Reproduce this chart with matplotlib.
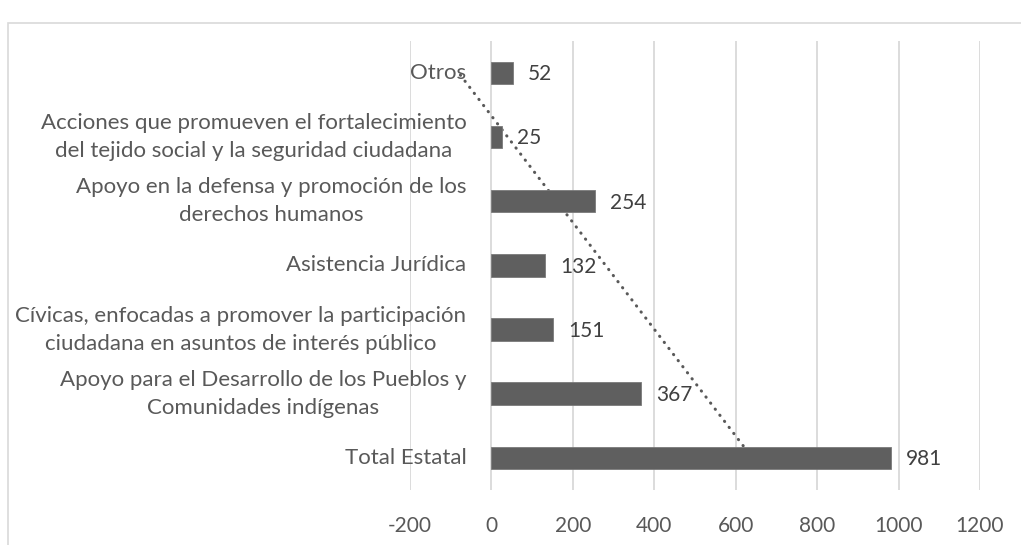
import numpy as np
import matplotlib
matplotlib.use("Agg")
from matplotlib import pyplot as plt
from matplotlib.patches import Rectangle

# categorias (de abajo hacia arriba, como en Excel)
categorias = [
    "Total Estatal",
    "Apoyo para el Desarrollo de los Pueblos y\nComunidades indígenas",
    "Cívicas, enfocadas a promover la participación\nciudadana en asuntos de interés público",
    "Asistencia Jurídica",
    "Apoyo en la defensa y promoción de los\nderechos humanos",
    "Acciones que promueven el fortalecimiento\ndel tejido social y la seguridad ciudadana",
    "Otros",
]
valores = [981, 367, 151, 132, 254, 25, 52]
ticks_x = [-200, 0, 200, 400, 600, 800, 1000, 1200]

gris = "#595959"
gris_barra = "#5f5f5f"
gris_linea = "#d9d9d9"

plt.rcParams["font.family"] = ["Lato", "DejaVu Sans"]

fig = plt.figure(figsize=(10.21, 5.45), dpi=100)
ax = fig.add_axes([0.4016, 0.1009, 0.5582, 0.8244])

# borde del area del grafico
fig.patches.append(Rectangle((8 / 1021, -0.01), 1.05, 1 - 23 / 545 + 0.01,
                             transform=fig.transFigure, fill=False,
                             edgecolor=gris_linea, linewidth=1.2))

y = np.arange(len(valores))
ax.barh(y, valores, height=0.35, color=gris_barra, edgecolor="#7a7a7a",
        linewidth=0.6, zorder=3)

# linea de tendencia lineal (como la de Excel)
xs = np.arange(1, len(valores) + 1)
m, b = np.polyfit(xs, valores, 1)
ax.plot(m * xs + b, y, color=gris, linestyle=(0, (0.1, 2.4)), linewidth=2.2,
        dash_capstyle="round", zorder=2)

for i, v in enumerate(valores):
    ax.annotate(str(v), xy=(v, i), xytext=(11, -1), textcoords="offset points",
                ha="left", va="center", fontsize=15, color="#404040", zorder=4)

for i, c in enumerate(categorias):
    ax.annotate(c, xy=(0, i), xytext=(-18, 0), textcoords="offset points",
                ha="right", va="center", multialignment="center",
                fontsize=16, color=gris, linespacing=1.5, zorder=4)

ax.set_xlim(-200, 1200)
ax.set_ylim(-0.5, 6.5)
ax.set_xticks(ticks_x)
ax.set_xticklabels([str(t) for t in ticks_x])
ax.set_yticks([])
ax.tick_params(axis="x", length=0, pad=19, labelsize=15, labelcolor=gris)
ax.grid(axis="x", color=gris_linea, linewidth=1.3, zorder=0)
for s in ax.spines.values():
    s.set_visible(False)

fig.savefig("out.png", dpi=100)
